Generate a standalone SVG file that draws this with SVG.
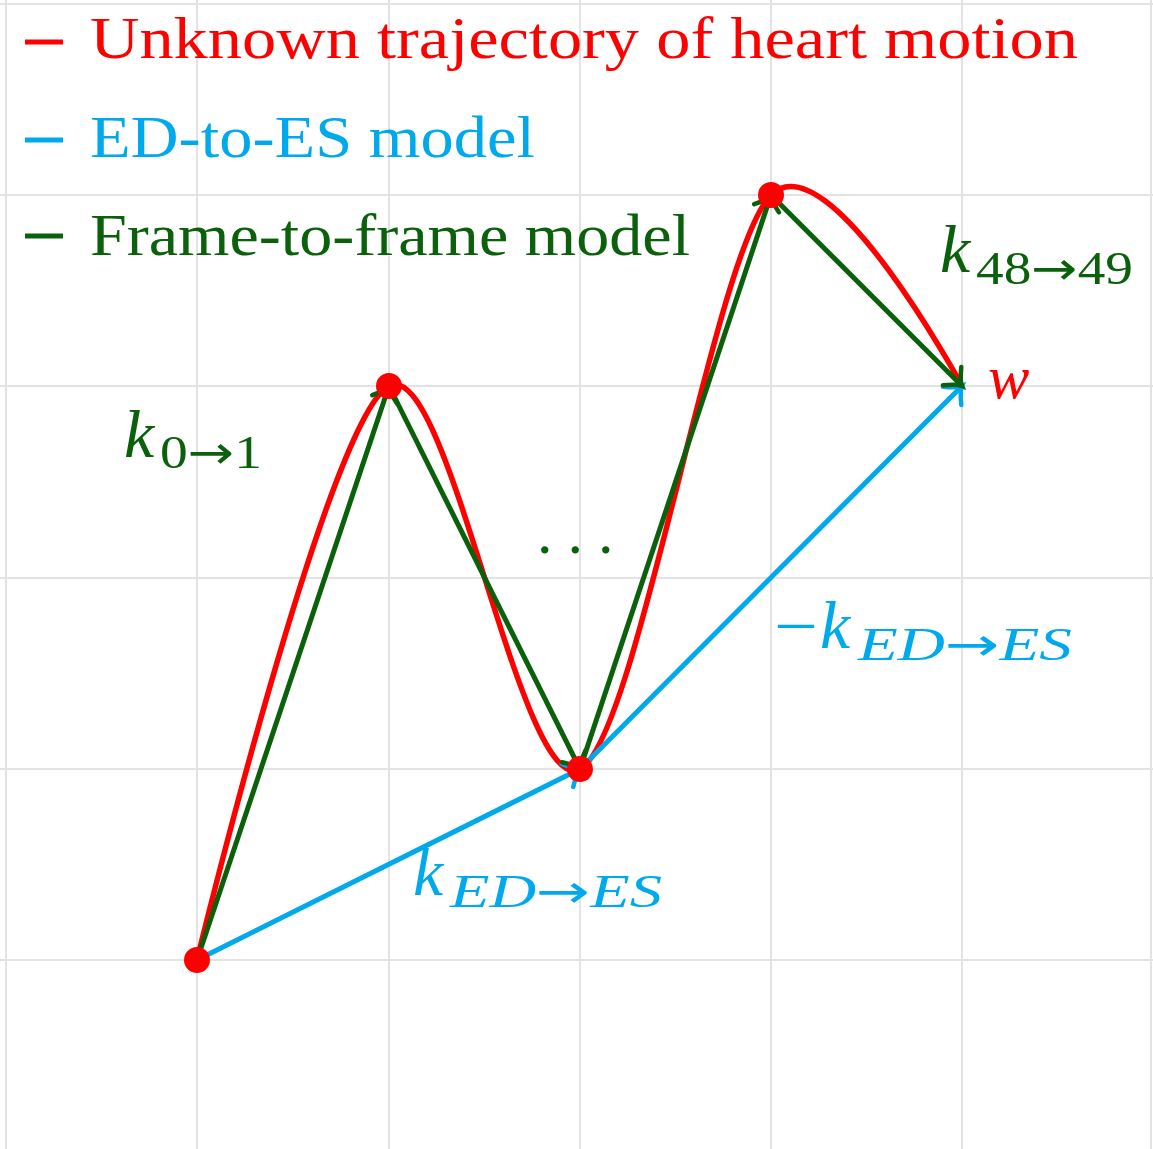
<svg xmlns="http://www.w3.org/2000/svg" width="1153" height="1149" viewBox="0 0 1153 1149">
  <style>
    .grid { stroke: #e3e3e3; stroke-width: 2; fill: none; }
    .legend { font-family: "Liberation Serif", "DejaVu Serif", serif; font-size: 60px; }
    .math { font-family: "Liberation Serif", "DejaVu Serif", serif; font-style: italic; }
    .up { font-style: normal; }
    .arw { font-family: "DejaVu Sans", sans-serif; font-style: normal; }
    .red { fill: #ff0000; }
    .blue { fill: #00a9ec; }
    .green { fill: #0b600b; }
    .l-red { stroke: #ff0000; stroke-width: 5.5; fill: none; }
    .l-blue { stroke: #00a9ec; stroke-width: 5; fill: none; }
    .l-green { stroke: #0b600b; stroke-width: 5; fill: none; }
  </style>
  <defs>
    <marker id="arr-green" markerUnits="userSpaceOnUse" markerWidth="40" markerHeight="40" refX="0" refY="0" viewBox="-20 -20 40 40" orient="auto" overflow="visible">
      <path d="M -14 -13 Q -5 -2 0 0 Q -5 2 -14 13" fill="none" stroke="#0b600b" stroke-width="4.5" stroke-linecap="round"/>
    </marker>
    <marker id="arr-blue" markerUnits="userSpaceOnUse" markerWidth="40" markerHeight="40" refX="0" refY="0" viewBox="-20 -20 40 40" orient="auto" overflow="visible">
      <path d="M -14 -13 Q -5 -2 0 0 Q -5 2 -14 13" fill="none" stroke="#00a9ec" stroke-width="4.5" stroke-linecap="round"/>
    </marker>
  </defs>
  <rect width="1153" height="1149" fill="#ffffff"/>
  <g id="grid" class="grid">
    <line x1="6" y1="0" x2="6" y2="1149"/>
    <line x1="197" y1="0" x2="197" y2="1149"/>
    <line x1="389" y1="0" x2="389" y2="1149"/>
    <line x1="580" y1="0" x2="580" y2="1149"/>
    <line x1="771" y1="0" x2="771" y2="1149"/>
    <line x1="962" y1="0" x2="962" y2="1149"/>
    <line x1="1151" y1="0" x2="1151" y2="1149"/>
    <line x1="0" y1="4" x2="1153" y2="4"/>
    <line x1="0" y1="195" x2="1153" y2="195"/>
    <line x1="0" y1="386" x2="1153" y2="386"/>
    <line x1="0" y1="578" x2="1153" y2="578"/>
    <line x1="0" y1="769" x2="1153" y2="769"/>
    <line x1="0" y1="960" x2="1153" y2="960"/>
  </g>
  <g id="legend">
    <line x1="25" y1="42" x2="63" y2="42" stroke="#ff0000" stroke-width="5"/>
    <text class="legend red" x="90" y="58" textLength="988" lengthAdjust="spacingAndGlyphs">Unknown trajectory of heart motion</text>
    <line x1="25" y1="140" x2="63" y2="140" stroke="#00a9ec" stroke-width="5"/>
    <text class="legend blue" x="90" y="157" textLength="445" lengthAdjust="spacingAndGlyphs">ED-to-ES model</text>
    <line x1="25" y1="236" x2="63" y2="236" stroke="#0b600b" stroke-width="5"/>
    <text class="legend green" x="90" y="255" textLength="600" lengthAdjust="spacingAndGlyphs">Frame-to-frame model</text>
  </g>
  <g id="connectors">
    <path id="trajectory" class="l-red" d="M 197 960 C 197 960 329 417 389 386 C 449 355 520 800 580 769 C 637 740 714 252 771 195 C 828 138 962 386 962 386"/>
    <line id="ed-to-es" class="l-blue" x1="197" y1="960" x2="580" y2="769" marker-end="url(#arr-blue)"/>
    <line id="es-to-w" class="l-blue" x1="580" y1="769" x2="962" y2="386" marker-end="url(#arr-blue)"/>
    <line id="f0-f1" class="l-green" x1="197" y1="960" x2="389" y2="386" marker-end="url(#arr-green)"/>
    <line id="f1-fes" class="l-green" x1="389" y1="386" x2="580" y2="769" marker-end="url(#arr-green)"/>
    <line id="fes-f48" class="l-green" x1="580" y1="769" x2="771" y2="195" marker-end="url(#arr-green)"/>
    <line id="f48-w" class="l-green" x1="771" y1="195" x2="962" y2="386" marker-end="url(#arr-green)"/>
  </g>
  <g id="node-ed"><circle cx="197" cy="960" r="13" fill="#ff0000"/></g>
  <g id="node-f1"><circle cx="389" cy="386" r="13" fill="#ff0000"/></g>
  <g id="node-es"><circle cx="580" cy="769" r="13" fill="#ff0000"/></g>
  <g id="node-f48"><circle cx="771" cy="195" r="13" fill="#ff0000"/></g>
  <g id="node-w">
    <text class="math red" x="988" y="398" font-size="62">w</text>
  </g>
  <g id="labels">
    <text class="math green" x="124" y="457" font-size="68">k</text>
    <text class="math green up" x="160" y="468" font-size="46" textLength="102" lengthAdjust="spacingAndGlyphs">0<tspan class="arw">→</tspan>1</text>
    <text class="math green" x="940" y="272" font-size="68">k</text>
    <text class="math green up" x="976" y="284" font-size="46" textLength="157" lengthAdjust="spacingAndGlyphs">48<tspan class="arw">→</tspan>49</text>
    <text class="math green up" x="537" y="553" font-size="62" letter-spacing="15">...</text>
    <text class="math blue" x="413" y="895" font-size="68">k</text>
    <text class="math blue" x="450" y="907" font-size="46" textLength="212" lengthAdjust="spacingAndGlyphs">ED<tspan class="arw">→</tspan>ES</text>
    <text class="math blue up" x="774" y="648" font-size="66" textLength="44" lengthAdjust="spacingAndGlyphs">−</text>
    <text class="math blue" x="820" y="648" font-size="68">k</text>
    <text class="math blue" x="858" y="660" font-size="46" textLength="214" lengthAdjust="spacingAndGlyphs">ED<tspan class="arw">→</tspan>ES</text>
  </g>
</svg>
